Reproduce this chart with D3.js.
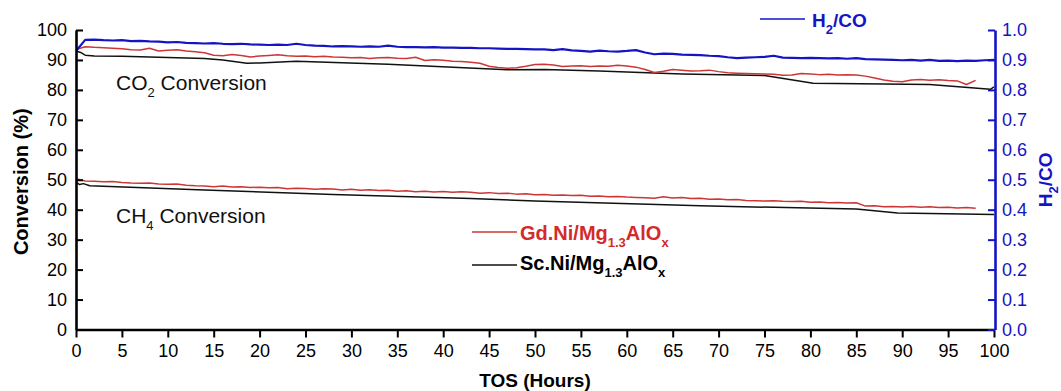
<!DOCTYPE html>
<html>
<head>
<meta charset="utf-8">
<script src="https://cdn.jsdelivr.net/npm/d3@7"></script>
<style>
  body { margin: 0; background: #fff; }
  svg { display: block; }
  text { font-family: "Liberation Sans", Arial, Helvetica, sans-serif; }
</style>
</head>
<body>
<svg id="chart" width="1061" height="391"></svg>
<script>
// Axis ticks
const xTicks = [0, 5, 10, 15, 20, 25, 30, 35, 40, 45, 50, 55, 60, 65, 70, 75, 80, 85, 90, 95, 100];
const convTicks = [0, 10, 20, 30, 40, 50, 60, 70, 80, 90, 100];
const ratioTicks = [0.0, 0.1, 0.2, 0.3, 0.4, 0.5, 0.6, 0.7, 0.8, 0.9, 1.0];

// Hourly logged values (index = hours on stream)
const h2coRatio = [
  0.930, 0.967, 0.968, 0.966, 0.965, 0.966, 0.963, 0.964, 0.962, 0.961,
  0.959, 0.960, 0.957, 0.956, 0.955, 0.956, 0.954, 0.953, 0.954, 0.952,
  0.951, 0.950, 0.951, 0.950, 0.954, 0.950, 0.948, 0.947, 0.945, 0.946,
  0.945, 0.944, 0.945, 0.944, 0.948, 0.944, 0.943, 0.943, 0.942, 0.943,
  0.941, 0.941, 0.940, 0.940, 0.939, 0.939, 0.938, 0.937, 0.937, 0.936,
  0.935, 0.935, 0.933, 0.936, 0.932, 0.930, 0.928, 0.931, 0.929, 0.928,
  0.930, 0.933, 0.925, 0.919, 0.921, 0.920, 0.918, 0.917, 0.916, 0.914,
  0.913, 0.909, 0.906, 0.908, 0.909, 0.910, 0.914, 0.908, 0.907, 0.906,
  0.907, 0.906, 0.905, 0.906, 0.904, 0.906, 0.903, 0.902, 0.901, 0.900,
  0.899, 0.900, 0.898, 0.900, 0.897, 0.898, 0.896, 0.898, 0.897, 0.899,
  0.900
];

const gdCO2 = [
  93.5, 94.4, 94.2, 94.1, 93.9, 93.7, 93.4, 93.3, 93.9, 93.0,
  93.2, 93.4, 93.0, 92.7, 92.4, 91.6, 91.4, 91.8, 91.5, 91.0,
  91.3, 91.5, 91.7, 91.4, 91.2, 91.3, 91.1, 91.2, 91.0, 90.9,
  90.7, 90.8, 90.5, 90.7, 90.8, 90.6, 90.5, 90.9, 89.8, 90.1,
  89.9, 89.6, 89.5, 89.2, 88.9, 87.9, 87.5, 87.2, 87.4, 87.9,
  88.5, 88.6, 88.3, 87.8, 88.0, 88.1, 87.8, 88.0, 87.9, 88.2,
  88.0, 87.6, 86.8, 85.8, 86.2, 86.8, 86.6, 86.3, 86.4, 86.6,
  86.1, 85.7, 85.6, 85.5, 85.4, 85.3, 85.2, 84.9, 85.0, 85.5,
  85.3, 85.1, 85.2, 85.0, 85.1, 85.0, 84.6, 84.0, 83.3, 82.9,
  82.7, 83.3, 83.5, 83.2, 83.4, 83.1, 83.0, 81.8, 83.2
];

const gdCH4 = [
  50.3, 49.6, 49.5, 49.3, 49.4, 49.1, 48.9, 48.8, 48.9, 48.6,
  48.5, 48.6, 48.2, 48.0, 47.9, 47.7, 47.9, 47.6, 47.7, 47.4,
  47.5, 47.3, 47.4, 47.0, 47.2, 47.1, 46.8, 47.0, 46.9, 46.6,
  46.8, 46.5, 46.7, 46.4, 46.5, 46.2, 46.3, 46.0, 46.2, 45.9,
  46.1, 45.8, 46.0, 45.8, 45.5, 45.7, 45.4, 45.5, 45.2, 45.3,
  45.0, 45.1, 44.8, 44.9, 44.7, 44.8, 44.5, 44.6, 44.3, 44.4,
  44.2, 44.1, 44.0, 43.8, 44.3, 43.9, 44.1, 43.7, 43.8, 43.5,
  43.6, 43.3, 43.4, 43.1, 43.0, 42.9, 43.0, 42.8, 42.7, 42.8,
  42.5, 42.6, 42.3, 42.4, 42.2, 42.3, 41.2, 41.3, 41.0, 41.1,
  40.9, 41.1, 40.8, 41.0, 40.7, 40.8, 40.6, 40.7, 40.5
];

// Sc catalyst logged at irregular times (hours, value)
const scCO2Hours = [0, 0.5, 1, 2, 5, 10, 14, 16, 18.6, 20, 24, 34, 47, 51, 57, 66, 75, 80.3, 93, 99.6, 100];
const scCO2 = [93.0, 92.5, 91.6, 91.3, 91.2, 90.8, 90.5, 90.0, 88.9, 89.0, 89.6, 88.6, 86.7, 86.8, 86.3, 85.3, 84.8, 82.2, 81.8, 80.2, 81.0];
const scCH4Hours = [0, 0.4, 0.8, 1.5, 14, 28, 43, 50, 68, 85, 89.5, 100];
const scCH4 = [49.2, 48.4, 48.7, 48.0, 46.6, 45.1, 43.7, 42.9, 41.3, 40.2, 38.9, 38.4];

const RED = "#cc3636";
const BLUE = "#1414c4";
const BLACK = "#111";

const svg = d3.select("#chart");
const plot = { left: 76, right: 994, top: 30, bottom: 329.5 };

const x = d3.scaleLinear().domain([0, 100]).range([plot.left, plot.right]);
const y = d3.scaleLinear().domain([0, 100]).range([plot.bottom, plot.top]);
const yR = d3.scaleLinear().domain([0, 1]).range([plot.bottom, plot.top]);

svg.append("defs").append("clipPath").attr("id", "plotClip")
  .append("rect").attr("x", plot.left).attr("y", plot.top - 5)
  .attr("width", plot.right - plot.left).attr("height", plot.bottom - plot.top + 5);

const lines = svg.append("g").attr("clip-path", "url(#plotClip)");

const hourly = arr => arr.map((v, i) => ({ t: i, v }));
const paired = (ts, vs) => ts.map((t, i) => ({ t, v: vs[i] }));

const lineConv = d3.line().x(d => x(d.t)).y(d => y(d.v));
const lineRatio = d3.line().x(d => x(d.t)).y(d => yR(d.v));

function drawLine(data, gen, color, width) {
  lines.append("path").datum(data)
    .attr("d", gen).attr("fill", "none")
    .attr("stroke", color).attr("stroke-width", width)
    .attr("stroke-linejoin", "round");
}

drawLine(paired(scCO2Hours, scCO2), lineConv, BLACK, 1.5);
drawLine(paired(scCH4Hours, scCH4), lineConv, BLACK, 1.5);
drawLine(hourly(gdCO2), lineConv, RED, 1.5);
drawLine(hourly(gdCH4), lineConv, RED, 1.5);
drawLine(hourly(h2coRatio), lineRatio, BLUE, 2.2);

// Axes
const fontSize = 18;

const gx = svg.append("g").attr("transform", `translate(0,${plot.bottom})`)
  .call(d3.axisBottom(x).tickValues(xTicks).tickSizeInner(8).tickSizeOuter(0).tickPadding(7));
gx.select(".domain").attr("stroke", "#000").attr("stroke-width", 2.6);
gx.selectAll(".tick line").attr("stroke", "#000").attr("stroke-width", 2);
gx.selectAll(".tick text").attr("font-size", fontSize).attr("fill", "#000")
  .style("font-family", '"Liberation Sans", Arial, sans-serif');

const gy = svg.append("g").attr("transform", `translate(${plot.left},0)`)
  .call(d3.axisLeft(y).tickValues(convTicks).tickSizeInner(-7).tickSizeOuter(0).tickPadding(9));
gy.select(".domain").attr("stroke", "#000").attr("stroke-width", 2.6);
gy.selectAll(".tick line").attr("stroke", "#000").attr("stroke-width", 2);
gy.selectAll(".tick text").attr("font-size", fontSize).attr("fill", "#000")
  .style("font-family", '"Liberation Sans", Arial, sans-serif');

const gr = svg.append("g").attr("transform", `translate(${plot.right + 1},0)`)
  .call(d3.axisRight(yR).tickValues(ratioTicks).tickSizeInner(-7).tickSizeOuter(0)
    .tickPadding(7).tickFormat(d3.format(".1f")));
gr.select(".domain").attr("stroke", BLUE).attr("stroke-width", 2.6);
gr.selectAll(".tick line").attr("stroke", BLUE).attr("stroke-width", 2);
gr.selectAll(".tick text").attr("font-size", fontSize).attr("fill", BLUE)
  .style("font-family", '"Liberation Sans", Arial, sans-serif');

// Axis titles
svg.append("text")
  .attr("transform", `translate(28,${(plot.top + plot.bottom) / 2 + 2}) rotate(-90)`)
  .attr("text-anchor", "middle").attr("font-size", 20).attr("font-weight", "bold")
  .attr("fill", "#000").text("Conversion (%)");

svg.append("text")
  .attr("x", (plot.left + plot.right) / 2).attr("y", 387)
  .attr("text-anchor", "middle").attr("font-size", 19).attr("font-weight", "bold")
  .attr("fill", "#000").text("TOS (Hours)");

const rTitle = svg.append("text")
  .attr("transform", `translate(1052,${(plot.top + plot.bottom) / 2}) rotate(-90)`)
  .attr("text-anchor", "middle").attr("font-size", 19).attr("font-weight", "bold")
  .attr("fill", BLUE);
rTitle.append("tspan").text("H");
rTitle.append("tspan").attr("font-size", 13).attr("dy", 6).text("2");
rTitle.append("tspan").attr("dy", -6).text("/CO");

// Text built from [string, isSubscript] segments
function richText(g, xPos, yPos, parts, size, subSize, weight, color) {
  const t = g.append("text").attr("x", xPos).attr("y", yPos)
    .attr("font-size", size).attr("font-weight", weight).attr("fill", color);
  let shifted = false;
  parts.forEach(([s, sub]) => {
    const ts = t.append("tspan").text(s);
    if (sub) ts.attr("font-size", subSize);
    if (sub && !shifted) { ts.attr("dy", 7); shifted = true; }
    else if (!sub && shifted) { ts.attr("dy", -7); shifted = false; }
  });
  return t;
}

// Annotations
richText(svg, 116, 90, [["CO", false], ["2", true], [" Conversion", false]], 21, 13, "normal", "#111");
richText(svg, 116, 223, [["CH", false], ["4", true], [" Conversion", false]], 21, 13, "normal", "#111");

// Legends
svg.append("line").attr("x1", 760).attr("x2", 805).attr("y1", 19).attr("y2", 19)
  .attr("stroke", BLUE).attr("stroke-width", 1.6);
richText(svg, 812, 27, [["H", false], ["2", true], ["/CO", false]], 19, 13, "bold", BLUE);

svg.append("line").attr("x1", 472).attr("x2", 517).attr("y1", 232).attr("y2", 232)
  .attr("stroke", RED).attr("stroke-width", 1.5);
richText(svg, 520, 240, [["Gd.Ni/Mg", false], ["1.3", true], ["AlO", false], ["x", true]], 20, 13, "bold", "#d42a2a");

svg.append("line").attr("x1", 472).attr("x2", 517).attr("y1", 265).attr("y2", 265)
  .attr("stroke", BLACK).attr("stroke-width", 1.5);
richText(svg, 520, 270, [["Sc.Ni/Mg", false], ["1.3", true], ["AlO", false], ["x", true]], 20, 13, "bold", "#000");
</script>
</body>
</html>
